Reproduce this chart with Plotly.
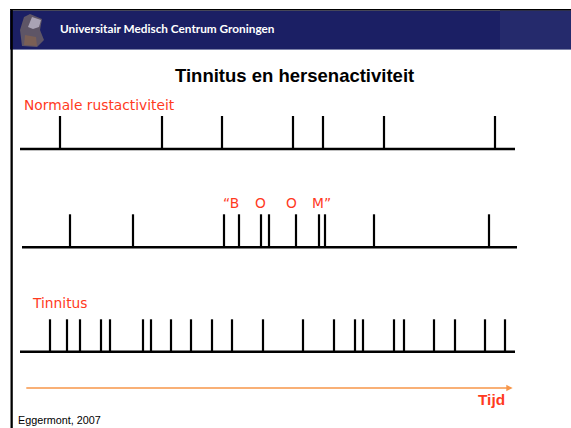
import plotly.graph_objects as go

# ---------------- data (spike times, arbitrary time units) ----------------
row_labels = ["Normale rustactiviteit", "", "Tinnitus"]
boom_letters = ["\u201cB", "O", "O", "M\u201d"]
boom_times = [211, 240, 271, 301]

window_normal = [0, 495]
window_boom = [2, 497]
window_tinnitus = [0, 495]

spikes_normal = [40, 142, 202, 273, 303, 364, 475]
spikes_boom = [50, 113, 204, 219, 241, 249, 276, 299, 305, 354, 469]
spikes_tinnitus = [30, 47, 60, 81, 90, 123, 131, 151, 171, 192, 212, 243,
                   283, 314, 335, 343, 374, 384, 414, 435, 465, 485]

time_axis_label = "Tijd"
title_text = "Tinnitus en hersenactiviteit"
banner_text = "Universitair Medisch Centrum Groningen"
source_text = "Eggermont, 2007"

# ---------------- layout constants ----------------
W, H = 571, 428
RED = "#ff3a1e"
ORANGE = "#f7964a"
NAVY = "#1b1f64"

rows = [
    dict(spikes=spikes_normal, window=window_normal, base=149.0, top=116.0),
    dict(spikes=spikes_boom, window=window_boom, base=247.3, top=214.3),
    dict(spikes=spikes_tinnitus, window=window_tinnitus, base=351.7, top=319.3),
]

def PX(x):
    return x / W

def PY(y):
    return 1 - y / H

fig = go.Figure()

for r in rows:
    fig.add_trace(go.Scatter(x=r["window"], y=[r["base"], r["base"]], mode="lines",
                             line=dict(color="black", width=2.6), hoverinfo="skip",
                             showlegend=False))
    xs, ys = [], []
    for t in r["spikes"]:
        xs += [t, t, None]
        ys += [r["base"], r["top"], None]
    fig.add_trace(go.Scatter(x=xs, y=ys, mode="lines",
                             line=dict(color="black", width=2.2), hoverinfo="skip",
                             showlegend=False))

shapes = [
    dict(type="rect", xref="paper", yref="paper", x0=PX(10), x1=PX(571), y0=PY(10.5), y1=PY(9),
         fillcolor="black", line=dict(width=0), layer="above"),
    dict(type="rect", xref="paper", yref="paper", x0=PX(10), x1=PX(571), y0=PY(49), y1=PY(10.5),
         fillcolor=NAVY, line=dict(width=0), layer="below"),
    dict(type="rect", xref="paper", yref="paper", x0=PX(500), x1=PX(571), y0=PY(49), y1=PY(10.5),
         fillcolor="#252a6c", line=dict(width=0), layer="below"),
    dict(type="rect", xref="paper", yref="paper", x0=PX(10), x1=PX(571), y0=PY(50), y1=PY(49),
         fillcolor="#7d82a8", line=dict(width=0), layer="below"),
    dict(type="rect", xref="paper", yref="paper", x0=PX(10.5), x1=PX(12.8), y0=0, y1=PY(9),
         fillcolor="black", line=dict(width=0), layer="above"),
    # logo (rough silhouette)
    dict(type="path", xref="paper", yref="paper",
         path="M {},{} L {},{} L {},{} L {},{} L {},{} L {},{} L {},{} L {},{} Z".format(
             PX(22), PY(46), PX(20), PY(30), PX(24), PY(17), PX(30), PY(14),
             PX(42), PY(19), PX(40), PY(30), PX(44), PY(40), PX(37), PY(47)),
         fillcolor="#5e5566", line=dict(width=0), layer="above"),
    dict(type="path", xref="paper", yref="paper",
         path="M {},{} L {},{} L {},{} L {},{} L {},{} Z".format(
             PX(28), PY(27), PX(32), PY(17), PX(41), PY(20), PX(39), PY(27), PX(33), PY(29)),
         fillcolor="#a9a2b4", line=dict(width=0), layer="above"),
    dict(type="path", xref="paper", yref="paper",
         path="M {},{} L {},{} L {},{} L {},{} Z".format(
             PX(24), PY(45), PX(25), PY(35), PX(36), PY(37), PX(37), PY(46)),
         fillcolor="#7a5f55", line=dict(width=0), layer="above"),
]

ann = []
ann.append(dict(text="<b>" + banner_text + "</b>", x=PX(58), y=PY(28.5), xref="paper", yref="paper",
                xanchor="left", yanchor="middle", showarrow=False,
                font=dict(family="Lato", size=11.8, color="white")))
ann.append(dict(text="<b>" + title_text + "</b>", x=PX(294), y=PY(75), xref="paper", yref="paper",
                xanchor="center", yanchor="middle", showarrow=False,
                font=dict(family="Liberation Sans", size=18.5, color="black")))
ann.append(dict(text=row_labels[0], x=PX(21.5), y=PY(104.5), xref="paper", yref="paper",
                xanchor="left", yanchor="middle", showarrow=False,
                font=dict(family="DejaVu Sans", size=13.8, color=RED)))
ann.append(dict(text=row_labels[2], x=PX(30), y=PY(303), xref="paper", yref="paper",
                xanchor="left", yanchor="middle", showarrow=False,
                font=dict(family="DejaVu Sans", size=13.8, color=RED)))
for letter, t in zip(boom_letters, boom_times):
    ann.append(dict(text=letter, x=t, y=203, xref="x", yref="y",
                    xanchor="center", yanchor="middle", showarrow=False,
                    font=dict(family="DejaVu Sans", size=13.8, color=RED)))
ann.append(dict(text="", x=492.7, y=388, ax=4.8, ay=388, xref="x", yref="y", axref="x", ayref="y",
                showarrow=True, arrowhead=2, arrowsize=0.8, arrowwidth=1.6, arrowcolor=ORANGE,
                standoff=0))
ann.append(dict(text="<b>" + time_axis_label + "</b>", x=PX(506.5), y=PY(399), xref="paper", yref="paper",
                xanchor="right", yanchor="middle", showarrow=False,
                font=dict(family="Liberation Sans", size=15.4, color=RED)))
ann.append(dict(text=source_text, x=PX(15.5), y=0, xref="paper", yref="paper",
                xanchor="left", yanchor="bottom", showarrow=False,
                font=dict(family="Liberation Sans", size=10.8, color="black")))

fig.update_layout(
    width=W, height=H,
    margin=dict(l=0, r=0, t=0, b=0),
    paper_bgcolor="white", plot_bgcolor="white",
    xaxis=dict(range=[-20, W - 20], visible=False, fixedrange=True),
    yaxis=dict(range=[H, 0], visible=False, fixedrange=True),
    shapes=shapes, annotations=ann, showlegend=False,
)

fig.write_html("out.html", config=dict(displayModeBar=False),
               post_script="document.body.style.margin='0';document.body.style.overflow='hidden';")
